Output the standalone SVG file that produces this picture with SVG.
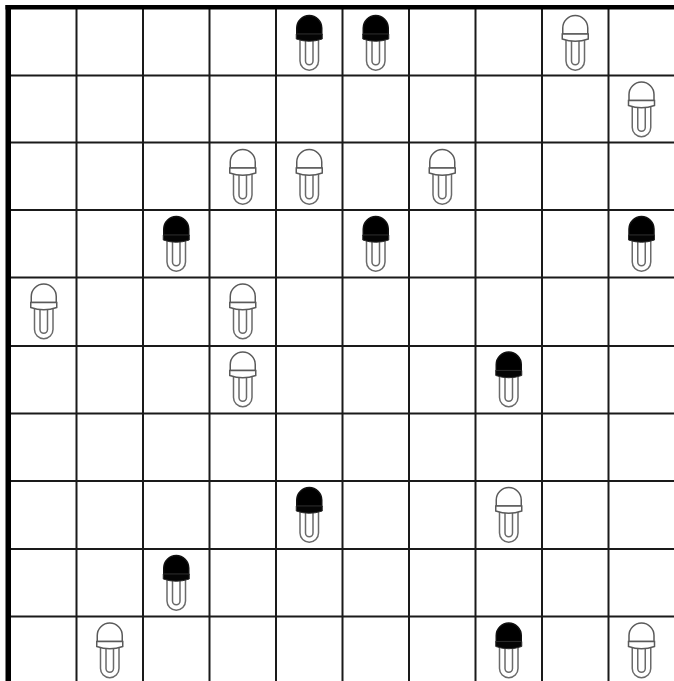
<svg xmlns="http://www.w3.org/2000/svg" xmlns:xlink="http://www.w3.org/1999/xlink" width="674" height="681" viewBox="0 0 674 681">
  <style>
    .grid line { stroke: #1a1a1a; stroke-width: 2; }
    .tube-o { fill: none; stroke: #6a6a6a; stroke-width: 7; }
    .tube-i { fill: none; stroke: #ffffff; stroke-width: 4; }
    .w-cap { fill: #ffffff; stroke: #5a5a5a; stroke-width: 1.5; }
    .b-cap { fill: #000000; stroke: #111111; stroke-width: 1.5; }
    .b-band { fill: #050505; stroke: #2a2a2a; stroke-width: 1; }
  </style>
  <defs>
    <g id="pill-w">
      <path class="tube-o" d="M7.5,24 V47 A6.5,6.5 0 0 0 20.5,47 V24"/>
      <path class="tube-i" d="M7.5,24 V47 A6.5,6.5 0 0 0 20.5,47 V24"/>
      <path class="w-cap" d="M1.5,20 V14 A12.5,12.5 0 0 1 26.5,14 V20 Z"/>
      <path class="w-cap" d="M1,20 H27 V25 Q14,29.5 1,25 Z"/>
    </g>
    <g id="pill-b">
      <path class="tube-o" d="M7.5,24 V47 A6.5,6.5 0 0 0 20.5,47 V24"/>
      <path class="tube-i" d="M7.5,24 V47 A6.5,6.5 0 0 0 20.5,47 V24"/>
      <path class="b-cap" d="M1.5,20 V14 A12.5,12.5 0 0 1 26.5,14 V20 Z"/>
      <path class="b-band" d="M1,20 H27 V25 Q14,29.5 1,25 Z"/>
    </g>
  </defs>
  <rect x="0" y="0" width="674" height="681" fill="#ffffff"/>
  <g id="connectors" class="grid">
    <line x1="76.5" y1="9" x2="76.5" y2="681"/>
    <line x1="143" y1="9" x2="143" y2="681"/>
    <line x1="209.5" y1="9" x2="209.5" y2="681"/>
    <line x1="276" y1="9" x2="276" y2="681"/>
    <line x1="342.5" y1="9" x2="342.5" y2="681"/>
    <line x1="409" y1="9" x2="409" y2="681"/>
    <line x1="475.5" y1="9" x2="475.5" y2="681"/>
    <line x1="542" y1="9" x2="542" y2="681"/>
    <line x1="608.5" y1="9" x2="608.5" y2="681"/>
    <line x1="11" y1="75.5" x2="674" y2="75.5"/>
    <line x1="11" y1="142.5" x2="674" y2="142.5"/>
    <line x1="11" y1="210" x2="674" y2="210"/>
    <line x1="11" y1="277.5" x2="674" y2="277.5"/>
    <line x1="11" y1="346" x2="674" y2="346"/>
    <line x1="11" y1="413.5" x2="674" y2="413.5"/>
    <line x1="11" y1="481" x2="674" y2="481"/>
    <line x1="11" y1="549" x2="674" y2="549"/>
    <line x1="11" y1="616.5" x2="674" y2="616.5"/>
    <rect x="5.5" y="5" width="668.5" height="4.5" fill="#000000"/>
    <rect x="5.5" y="5" width="5.5" height="676" fill="#000000"/>
  </g>
  <!-- row 0 -->
  <g id="n-r0c4"><use xlink:href="#pill-b" x="295.25" y="14"/></g>
  <g id="n-r0c5"><use xlink:href="#pill-b" x="361.75" y="14"/></g>
  <g id="n-r0c8"><use xlink:href="#pill-w" x="561.25" y="14"/></g>
  <!-- row 1 -->
  <g id="n-r1c9"><use xlink:href="#pill-w" x="627.5" y="80.5"/></g>
  <!-- row 2 -->
  <g id="n-r2c3"><use xlink:href="#pill-w" x="228.75" y="148"/></g>
  <g id="n-r2c4"><use xlink:href="#pill-w" x="295.25" y="148"/></g>
  <g id="n-r2c6"><use xlink:href="#pill-w" x="428.25" y="148"/></g>
  <!-- row 3 -->
  <g id="n-r3c2"><use xlink:href="#pill-b" x="162.25" y="215"/></g>
  <g id="n-r3c5"><use xlink:href="#pill-b" x="361.75" y="215"/></g>
  <g id="n-r3c9"><use xlink:href="#pill-b" x="627.5" y="215"/></g>
  <!-- row 4 -->
  <g id="n-r4c0"><use xlink:href="#pill-w" x="29.75" y="282.5"/></g>
  <g id="n-r4c3"><use xlink:href="#pill-w" x="228.75" y="282.5"/></g>
  <!-- row 5 -->
  <g id="n-r5c3"><use xlink:href="#pill-w" x="228.75" y="350.5"/></g>
  <g id="n-r5c7"><use xlink:href="#pill-b" x="494.75" y="350.5"/></g>
  <!-- row 7 -->
  <g id="n-r7c4"><use xlink:href="#pill-b" x="295.25" y="486"/></g>
  <g id="n-r7c7"><use xlink:href="#pill-w" x="494.75" y="486"/></g>
  <!-- row 8 -->
  <g id="n-r8c2"><use xlink:href="#pill-b" x="162.25" y="554"/></g>
  <!-- row 9 -->
  <g id="n-r9c1"><use xlink:href="#pill-w" x="95.75" y="621.5"/></g>
  <g id="n-r9c7"><use xlink:href="#pill-b" x="494.75" y="621.5"/></g>
  <g id="n-r9c9"><use xlink:href="#pill-w" x="627.5" y="621.5"/></g>
</svg>
